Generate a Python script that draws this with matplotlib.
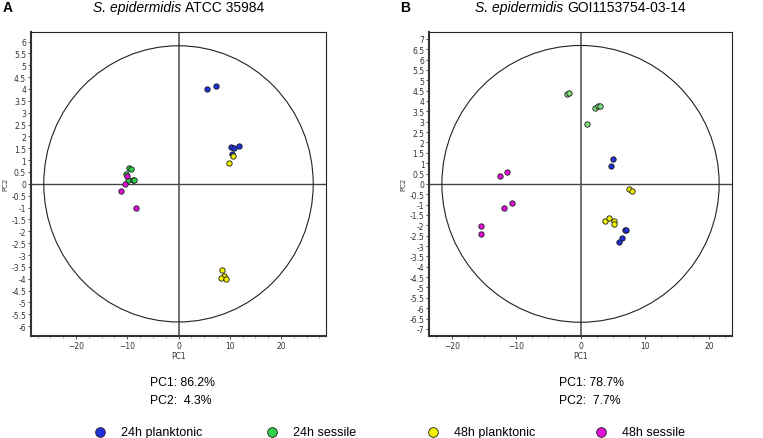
import matplotlib
matplotlib.use('Agg')
import matplotlib.pyplot as plt
import numpy as np
from matplotlib.patches import Ellipse
from matplotlib.lines import Line2D
from matplotlib.ticker import MultipleLocator

groups = ['24h planktonic', '24h sessile', '48h planktonic', '48h sessile']
colors = ['#1f30d8', '#2fd04a', '#f2ee00', '#e010d8']
colors_b = ['#1f30d8', '#7ede7e', '#f2ee00', '#e010d8']

# panel A  (ATCC 35984) scores
a_pc1 = {
    '24h planktonic': [5.5, 7.4, 10.2, 10.8, 11.8, 10.4],
    '24h sessile': [-9.6, -9.3, -10.3, -9.9, -8.9, -8.7],
    '48h planktonic': [10.6, 9.9, 8.4, 8.8, 8.2, 9.2],
    '48h sessile': [-10.0, -10.5, -11.2, -8.3],
}
a_pc2 = {
    '24h planktonic': [4.0, 4.12, 1.57, 1.53, 1.6, 1.27],
    '24h sessile': [0.68, 0.63, 0.43, 0.16, 0.18, 0.16],
    '48h planktonic': [1.17, 0.86, -3.64, -3.87, -3.98, -4.02],
    '48h sessile': [0.32, -0.01, -0.3, -1.01],
}
# panel B  (GOI1153754-03-14) scores
b_pc1 = {
    '24h planktonic': [5.1, 4.7, 6.85, 7.1, 6.5, 6.0],
    '24h sessile': [-2.1, -1.75, 2.2, 2.75, 3.0, 1.05],
    '48h planktonic': [7.5, 8.0, 3.75, 4.45, 5.2, 5.25],
    '48h sessile': [-12.5, -11.5, -11.9, -10.7, -15.4, -15.4],
}
b_pc2 = {
    '24h planktonic': [1.19, 0.84, -2.24, -2.24, -2.59, -2.8],
    '24h sessile': [4.36, 4.41, 3.67, 3.76, 3.78, 2.91],
    '48h planktonic': [-0.26, -0.36, -1.8, -1.67, -1.8, -1.93],
    '48h sessile': [0.4, 0.57, -1.16, -0.94, -2.04, -2.42],
}

panels = [
    dict(pos=[0.0406, 0.233, 0.3867, 0.6918], xlim=28.8, ylim=6.4, ew=26.3, eh=5.82,
         yt=6, pc1=a_pc1, pc2=a_pc2, cols=colors, letter='A', lx=0.004,
         it='S. epidermidis', name='ATCC 35984', split=183 / 763,
         expl=['PC1: 86.2%', 'PC2:  4.3%'], ex=150 / 763),
    dict(pos=[0.5627, 0.233, 0.3963, 0.6918], xlim=23.5, ylim=7.33, ew=21.55, eh=6.68,
         yt=7, pc1=b_pc1, pc2=b_pc2, cols=colors_b, letter='B', lx=400 / 763,
         it='S. epidermidis', name='GOI1153754-03-14', split=565 / 763,
         expl=['PC1: 78.7%', 'PC2:  7.7%'], ex=559 / 763),
]

fig = plt.figure(figsize=(7.63, 4.39), dpi=100)

for p in panels:
    ax = fig.add_axes(p['pos'])
    ax.set_xlim(-p['xlim'], p['xlim'])
    ax.set_ylim(-p['ylim'], p['ylim'])
    ax.axhline(0, color='#444444', lw=1.0, zorder=1)
    ax.axvline(0, color='#555555', lw=1.2, zorder=1)
    ax.add_patch(Ellipse((0, 0), 2 * p['ew'], 2 * p['eh'], fill=False, ec='#222222', lw=0.8, zorder=1))
    for g, c in zip(groups, p['cols']):
        ax.scatter(p['pc1'][g], p['pc2'][g], s=15, c=c, edgecolors='#1a1a1a', linewidths=0.6, zorder=3)
    ax.xaxis.set_major_locator(MultipleLocator(10))
    ax.xaxis.set_minor_locator(MultipleLocator(2.5))
    ax.set_yticks(np.arange(-p['yt'], p['yt'] + 0.01, 0.5))
    ax.set_yticklabels(['%g' % v for v in np.arange(-p['yt'], p['yt'] + 0.01, 0.5)])
    ax.tick_params(axis='both', which='major', labelsize=5.5, length=2, width=0.6,
                   colors='#333333', pad=1.5)
    ax.tick_params(axis='both', which='minor', length=1.5, width=0.5, colors='#888888')
    ax.set_xlabel('PC1', fontsize=5.5, labelpad=1, color='#333333')
    ax.set_ylabel('PC2', fontsize=5, labelpad=2, color='#333333')
    for s in ['left', 'bottom']:
        ax.spines[s].set_linewidth(1.5)
        ax.spines[s].set_color('#333333')
    for s in ['top', 'right']:
        ax.spines[s].set_linewidth(0.8)
        ax.spines[s].set_color('#222222')

    fig.text(p['lx'], 1 - 12 / 439, p['letter'], fontsize=10, fontweight='bold',
             family='Liberation Sans', va='baseline', ha='left')
    fig.text(p['split'] - 0.002, 1 - 12 / 439, p['it'], fontsize=10, style='italic',
             family='Liberation Sans', va='baseline', ha='right')
    fig.text(p['split'] + 0.003, 1 - 12 / 439, p['name'], fontsize=10,
             family='Liberation Sans', va='baseline', ha='left')
    fig.text(p['ex'], 1 - 383 / 439, p['expl'][0], fontsize=8.8,
             family='Liberation Sans', va='center', ha='left')
    fig.text(p['ex'], 1 - 401 / 439, p['expl'][1], fontsize=8.8,
             family='Liberation Sans', va='center', ha='left')

# legend across bottom
leg_x = [100 / 763, 272 / 763, 433 / 763, 601 / 763]
for g, c, lx in zip(groups, colors, leg_x):
    fig.add_artist(Line2D([lx], [1 - 433 / 439], marker='o', markersize=7, color=c,
                          markeredgecolor='#222222', markeredgewidth=0.6, linestyle='none',
                          transform=fig.transFigure))
    fig.text(lx + 21 / 763, 1 - 433 / 439, g, fontsize=9, family='Liberation Sans',
             va='center', ha='left')

plt.savefig('out.png', dpi=100)
